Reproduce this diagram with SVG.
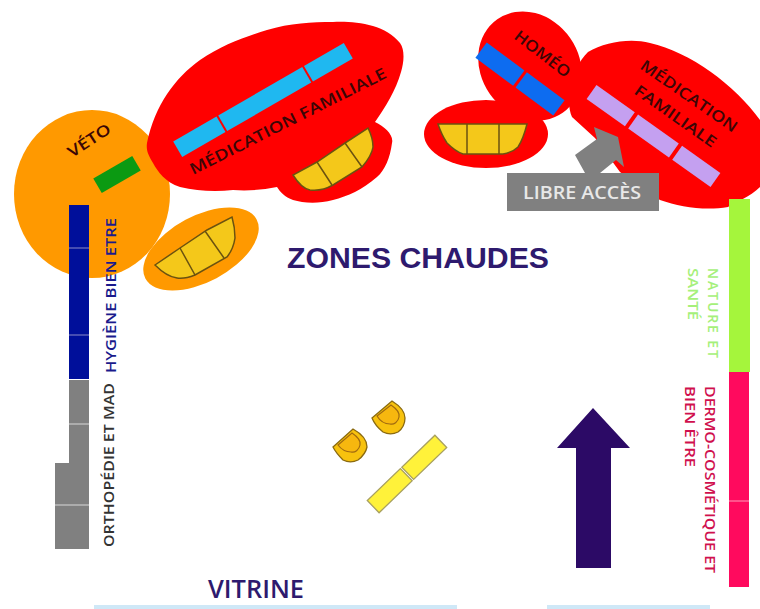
<svg xmlns="http://www.w3.org/2000/svg" width="760" height="609" viewBox="0 0 760 609">
<style>
text{font-family:"Open Sans","DejaVu Sans",sans-serif;font-weight:600;}
.l{font-family:"Liberation Sans",Arial,sans-serif;font-weight:bold;fill:#2e1a6e;}
.k{fill:#3a0606;font-size:15.5px;}
.v{font-size:15px;}
.y{fill:#f4c81a;stroke:#6b5210;stroke-width:1.5;}
.s{fill:none;stroke:#6b5210;stroke-width:1.5;}
.b{fill:#f7c20e;stroke:#8a6a10;stroke-width:1.3;}
.i{fill:#f7b70f;stroke:#a06a10;stroke-width:1.2;}
</style>
<rect width="760" height="609" fill="#fff"/>
<g id="veto">
<ellipse cx="92" cy="194" rx="78" ry="84" fill="#ff9900"/>
<rect x="94.500" y="166" width="45" height="17" fill="#0b9a12" transform="rotate(-30 117 174.500)"/>
<text class="k" transform="translate(72 158) rotate(-33)" textLength="48" lengthAdjust="spacingAndGlyphs">VÉTO</text>
</g>
<g id="medication-familiale-1">
<path d="M147 143C155 105 175 78 200 60C222 45 245 37 267 30C290 23 312 22 333 22C355 21 385 24 400 43C405 50 404 62 401 72C396 90 385 108 375 122C385 127 394 135 392 143C390 158 385 170 377 177C362 190 348 196 333 200C318 204 303 203 293 200C285 197 280 192 277 187C262 190 248 191 233 190C215 192 197 191 180 187C165 182 158 172 153 163C148 155 146 150 147 143Z" fill="#f00"/>
<g transform="translate(263 100) rotate(-30)" fill="#1fb8f0">
<rect x="-98.500" y="-9" width="50" height="18"/>
<rect x="-46.500" y="-9" width="97" height="18"/>
<rect x="52.500" y="-9" width="46" height="18"/>
</g>
<text class="k" transform="translate(193 175) rotate(-26.700)" textLength="218" lengthAdjust="spacingAndGlyphs">MÉDICATION FAMILIALE</text>
<path class="y" d="M293 175C298 183 304 189 310 190C318 191 326 189 333 185L362 167C368 160 372 154 373 147C373 140 371 134 368 128L345 143L317 162Z"/>
<path class="s" d="M317 162L332 185M345 143L362 167"/>
</g>
<g id="presentoir-orange">
<ellipse cx="201" cy="249" rx="63" ry="33" fill="#ff9900" transform="rotate(-28 201 249)"/>
<path class="y" d="M155 265C162 272 169 277 177 278C184 279 190 277 195 275L227 257C231 252 234 245 235 238C235 231 234 224 232 217L207 230L180 248Z"/>
<path class="s" d="M180 248L195 275M205 231L224 258"/>
</g>
<g id="presentoir-rouge">
<ellipse cx="486" cy="134" rx="62" ry="34" fill="#f00"/>
<path class="y" d="M438 124H527C525 132 522 141 518 147C514 151 509 153 503 154H463C457 152 452 148 447 143C443 137 440 130 438 124Z"/>
<path class="s" d="M467 124V154M499 124V154"/>
</g>
<g id="medication-familiale-2">
<path d="M588 52C605 42 630 38 650 43C690 52 735 85 760 120V187C750 197 735 202 728 207C705 211 680 207 660 200L620 172L595 138L572 117C565 100 570 70 588 52Z" fill="#f00"/>
<g transform="translate(653.500 136) rotate(35.400)" fill="#c4a0f0">
<rect x="-76" y="-8.500" width="47" height="17"/>
<rect x="-25" y="-8.500" width="50" height="17"/>
<rect x="29" y="-8.500" width="47" height="17"/>
</g>
<text class="k" transform="translate(639 68) rotate(34.700)" textLength="114" lengthAdjust="spacingAndGlyphs">MÉDICATION</text>
<text class="k" transform="translate(633 93) rotate(35)" textLength="96" lengthAdjust="spacingAndGlyphs">FAMILIALE</text>
</g>
<g id="homeo">
<ellipse cx="530" cy="66" rx="49" ry="57" fill="#f00" transform="rotate(-35 530 66)"/>
<g transform="translate(520 79) rotate(36.600)" fill="#0d6cf0">
<rect x="-48.500" y="-9.500" width="47" height="19"/>
<rect x="1.500" y="-9.500" width="47" height="19"/>
</g>
<text class="k" transform="translate(513 38) rotate(37.600)" textLength="66" lengthAdjust="spacingAndGlyphs">HOMÉO</text>
</g>
<g id="libre-acces">
<path d="M575 155L597 139L594 127L618 137L624 167L616 160L600 173H585Z" fill="#808080"/>
<rect x="507" y="173" width="152" height="38" fill="#808080"/>
<text x="523" y="199" font-size="18" fill="#e8e8e8" textLength="118" lengthAdjust="spacingAndGlyphs">LIBRE ACCÈS</text>
</g>
<text id="zones-chaudes" class="l" x="287" y="268" font-size="29" textLength="262" lengthAdjust="spacingAndGlyphs">ZONES CHAUDES</text>
<g id="hygiene">
<rect x="69" y="205" width="20" height="174" fill="#000f9a"/>
<path d="M69 248H89M69 335H89" stroke="#8c8cc8"/>
<text class="v" transform="translate(116 373) rotate(-90)" fill="#1a1a8c" textLength="155" lengthAdjust="spacingAndGlyphs">HYGIÈNE BIEN ETRE</text>
</g>
<g id="orthopedie">
<path d="M69 380H89V549H55V463H69Z" fill="#808080"/>
<path d="M69 424H89M55 505H89" stroke="#d8d8d8"/>
<text class="v" transform="translate(114 547) rotate(-90)" fill="#333" textLength="164" lengthAdjust="spacingAndGlyphs">ORTHOPÉDIE ET MAD</text>
</g>
<g id="nature-sante">
<rect x="729" y="199" width="21" height="173" fill="#a5f53c"/>
<text font-size="14" transform="translate(708 268) rotate(90)" fill="#a5f07a" textLength="90" lengthAdjust="spacing">NATURE   ET</text>
<text font-size="14" transform="translate(688 268) rotate(90)" fill="#a5f07a" textLength="52" lengthAdjust="spacingAndGlyphs">SANTÉ</text>
</g>
<g id="dermo">
<rect x="729" y="372" width="20" height="215" fill="#ff0a5e"/>
<path d="M729 501H749" stroke="#ff9ab8"/>
<text class="v" transform="translate(705 386) rotate(90)" fill="#d0104e" textLength="187" lengthAdjust="spacingAndGlyphs">DERMO-COSMÉTIQUE ET</text>
<text class="v" transform="translate(685 386) rotate(90)" fill="#d0104e" textLength="81" lengthAdjust="spacingAndGlyphs">BIEN ÊTRE</text>
</g>
<g id="tables">
<g id="table-1"><path class="b" d="M333 447L353 429C362 434 367 440 367 447C366 452 362 457 358 460C352 463 347 462 343 460C339 456 335 451 333 447Z"/><path class="i" d="M338 445L352 433C358 437 361 441 360 445C359 450 355 453 351 452C346 452 341 449 338 445Z"/></g>
<g id="table-2"><path class="b" d="M372 418L392 401C400 406 405 412 405 418C405 424 402 429 398 432C392 435 387 434 383 432C378 428 374 423 372 418Z"/><path class="i" d="M377 416L391 405C397 409 400 413 399 417C398 422 394 425 390 424C385 424 380 421 377 416Z"/></g>
<g transform="translate(407 474) rotate(-44)" stroke="#a8a060" stroke-width="1.300" fill="#fff23a">
<rect x="-47" y="-8.500" width="46" height="17"/>
<rect x="1" y="-8.500" width="46" height="17"/>
</g>
</g>
<path id="fleche" d="M576 568V448H557L593 408L630 448H611V568Z" fill="#2c0a66"/>
<text id="vitrine" x="208" y="598" font-size="25" fill="#2e1a6e" textLength="96" lengthAdjust="spacingAndGlyphs">VITRINE</text>
<rect x="94" y="605" width="363" height="4" fill="#cfe8f7"/>
<rect x="547" y="605" width="163" height="4" fill="#cfe8f7"/>
</svg>
